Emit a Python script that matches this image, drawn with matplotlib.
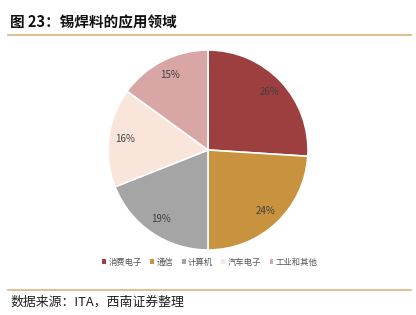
"""Pie chart: application areas of tin solder."""

import matplotlib
matplotlib.use("Agg")
import matplotlib.pyplot as plt
from matplotlib.lines import Line2D
from matplotlib.patches import Patch

plt.rcParams["font.family"] = ["Noto Sans CJK SC", "DejaVu Sans"]

CATEGORIES = ["消费电子", "通信", "计算机", "汽车电子", "工业和其他"]
SHARES = [26, 24, 19, 16, 15]
COLORS = ["#9C3F3E", "#C8923F", "#A5A5A5", "#FAE5DA", "#D9A6A6"]
TITLE = "图 23：锡焊料的应用领域"
SOURCE = "数据来源：ITA，西南证券整理"


def main() -> None:
    fig = plt.figure(figsize=(4.16, 3.15), dpi=100)
    fig.patch.set_facecolor("white")

    # pie area: centre ~ (208, 150) px, radius ~ 100 px
    ax = fig.add_axes([(208 - 100) / 416, 1 - (150 + 100) / 315, 200 / 416, 200 / 315])
    ax.pie(
        SHARES,
        colors=COLORS,
        startangle=90,
        counterclock=False,
        autopct="%d%%",
        pctdistance=0.84,
        radius=1.0,
        wedgeprops=dict(edgecolor="white", linewidth=1.2),
        textprops=dict(fontsize=7, color="#404040"),
    )
    ax.set_xlim(-1.0, 1.0)
    ax.set_ylim(-1.0, 1.0)
    ax.set_aspect("equal")

    # title and rules
    fig.text(10 / 416, 1 - 22 / 315, TITLE, fontsize=10.5, fontweight="bold",
             va="center", ha="left", color="#111111")
    fig.add_artist(Line2D([8 / 416, 411 / 416], [1 - 35 / 315] * 2,
                          color="#D8B57E", linewidth=1.2))
    fig.add_artist(Line2D([8 / 416, 411 / 416], [1 - 290 / 315] * 2,
                          color="#D8B57E", linewidth=1.2))
    fig.text(10 / 416, 1 - 302 / 315, SOURCE, fontsize=9.3, style="italic",
             va="center", ha="left", color="#222222")

    handles = [Patch(facecolor=c, edgecolor="none") for c in COLORS]
    fig.legend(
        handles, CATEGORIES,
        loc="center", bbox_to_anchor=(210 / 416, 1 - 262 / 315),
        ncol=5, frameon=False, fontsize=6,
        handlelength=0.45, handleheight=0.45, handletextpad=0.3,
        columnspacing=1.0, labelcolor="#555555",
    )

    fig.savefig("out.png", dpi=100)
    plt.close(fig)


if __name__ == "__main__":
    main()
